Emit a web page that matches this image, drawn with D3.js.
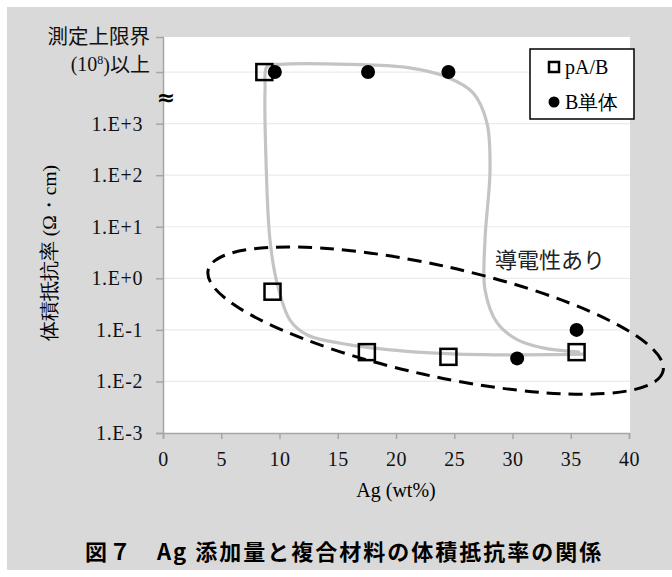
<!DOCTYPE html>
<html>
<head>
<meta charset="utf-8">
<script src="https://cdn.jsdelivr.net/npm/d3@7"></script>
<style>
  body { margin: 0; background: #fff; }
  svg { display: block; }
  .serif { font-family: "Liberation Serif", "DejaVu Serif", serif; }
  .jp { font-family: "Noto Sans CJK JP", sans-serif; }
</style>
</head>
<body>
<div id="chart"></div>
<script>
// values (resistivity in ohm-cm, "limit" = above 10^8)
const limit = 1e4; // plotted at the "(10^8)以上" row
const pabX = [8.7, 9.4, 17.5, 24.5, 35.5];
const pabY = [limit, 0.55, 0.037, 0.030, 0.037];
const bX = [9.6, 17.6, 24.5, 30.4, 35.5];
const bY = [limit, limit, limit, 0.028, 0.1];
const xTicks = [0, 5, 10, 15, 20, 25, 30, 35, 40];
const yTicks = [-3, -2, -1, 0, 1, 2, 3, 4];

// hand-drawn gray guide curve (wt%, log10 value)
const guideX = [36.1, 27.5, 21.8, 16.05, 12.4, 10.9, 9.79, 9.18, 8.84, 8.76, 8.93, 10.0, 16.0, 20.9, 24.4, 26.6, 27.8, 28.07, 27.64, 27.64, 28.67, 30.4, 32.6, 35.8];
const guideY = [-1.47, -1.48, -1.43, -1.29, -1.10, -0.81, -0.09, 0.75, 2.30, 3.66, 4.11, 4.15, 4.15, 4.09, 3.90, 3.60, 3.02, 2.11, 0.75, -0.22, -0.86, -1.19, -1.35, -1.43];

const width = 672, height = 577;
const margin = { left: 163, right: 43, top: 37, bottom: 144 };

const svg = d3.select("#chart")
  .append("svg")
  .attr("width", width)
  .attr("height", height);

// gray panel
svg.append("rect")
  .attr("x", 7).attr("y", 7)
  .attr("width", width - 7).attr("height", 563)
  .attr("fill", "#d9d9d9");

const x = d3.scaleLinear().domain([0, 40]).range([margin.left, width - margin.right]);
const y = d3.scaleLinear().domain([-3, 4.68]).range([height - margin.bottom, margin.top]);

svg.append("rect")
  .attr("x", x(0)).attr("y", margin.top)
  .attr("width", 630 - x(0)).attr("height", y(-3) - margin.top)
  .attr("fill", "#fff");

// grid
svg.append("g")
  .selectAll("line")
  .data(yTicks.slice(1))
  .join("line")
  .attr("x1", x(0)).attr("x2", 630)
  .attr("y1", d => y(d)).attr("y2", d => y(d))
  .attr("stroke", "#ebebeb")
  .attr("stroke-width", 1.2);

const yAxis = svg.append("g")
  .attr("transform", `translate(${x(0)},0)`)
  .call(d3.axisLeft(y).tickValues(yTicks).tickSize(7).tickPadding(13)
    .tickFormat(d => d === 4 ? "" : "1.E" + (d < 0 ? "-" : "+") + Math.abs(d)));

const xAxis = svg.append("g")
  .attr("transform", `translate(0,${y(-3)})`)
  .call(d3.axisBottom(x).tickValues(xTicks).tickSize(6).tickPadding(13));

[xAxis, yAxis].forEach(g => {
  g.attr("font-family", null).attr("font-size", null);
  g.select(".domain").attr("stroke", "#a6a6a6").attr("stroke-width", 1.5);
  g.selectAll(".tick line").attr("stroke", "#a6a6a6").attr("stroke-width", 1.5);
  g.selectAll("text")
    .attr("class", "serif")
    .style("font-size", "20px")
    .attr("letter-spacing", 0.6)
    .attr("fill", "#111");
});

// top row label (upper measurement limit)
const topLab = yAxis.select(".tick:last-of-type text");
topLab.attr("letter-spacing", 0);
topLab.append("tspan").attr("x", -13).attr("dy", "-1.4em")
  .attr("class", "jp").style("font-size", "20.5px")
  .text("測定上限界");
const t2 = topLab.append("tspan").attr("x", -13).attr("dy", "1.38em");
t2.append("tspan").text("(10");
t2.append("tspan").style("font-size", "12px").attr("dy", "-0.6em").text("8");
t2.append("tspan").attr("dy", "0.4em").text(")");
t2.append("tspan").attr("class", "jp").style("font-size", "20px").text("以上");

// axis break mark
svg.append("text")
  .attr("x", x(0) + 3).attr("y", (y(4) + y(3)) / 2)
  .attr("text-anchor", "middle")
  .attr("dominant-baseline", "central")
  .style("font-family", "'DejaVu Sans', sans-serif")
  .attr("font-weight", "bold")
  .attr("font-size", 22)
  .text("≈");

// guide curve
const guide = d3.line()
  .x(d => x(d[0]))
  .y(d => y(d[1]))
  .curve(d3.curveCatmullRom.alpha(0.5));

svg.append("path")
  .attr("d", guide(d3.zip(guideX, guideY)))
  .attr("fill", "none")
  .attr("stroke", "#c4c4c4")
  .attr("stroke-width", 3.2);

// dashed ellipse around conductive region
const ec = [x(23.4), y(-0.82)];
svg.append("ellipse")
  .attr("cx", ec[0]).attr("cy", ec[1])
  .attr("rx", 233).attr("ry", 55)
  .attr("transform", `rotate(12.5 ${ec[0]} ${ec[1]})`)
  .attr("fill", "none")
  .attr("stroke", "#000")
  .attr("stroke-width", 3)
  .attr("stroke-dasharray", "14 8");

svg.append("text")
  .attr("x", 495).attr("y", 258)
  .attr("dominant-baseline", "central")
  .attr("class", "jp")
  .style("font-size", "22px")
  .attr("fill", "#222")
  .text("導電性あり");

// markers
const pab = d3.zip(pabX, pabY);
const bOnly = d3.zip(bX, bY);

svg.append("g")
  .selectAll("circle")
  .data(bOnly)
  .join("circle")
  .attr("cx", d => x(d[0]))
  .attr("cy", d => y(Math.log10(d[1])))
  .attr("r", 7)
  .attr("fill", "#000");

svg.append("g")
  .selectAll("rect")
  .data(pab)
  .join("rect")
  .attr("x", d => x(d[0]) - 8)
  .attr("y", d => y(Math.log10(d[1])) - 8)
  .attr("width", 16).attr("height", 16)
  .attr("fill", "none")
  .attr("stroke", "#000")
  .attr("stroke-width", 2.5);

// legend
const legend = svg.append("g").attr("transform", "translate(530,49)");
legend.append("rect")
  .attr("width", 104).attr("height", 70)
  .attr("fill", "#fff").attr("stroke", "#000").attr("stroke-width", 1.5);
legend.append("rect")
  .attr("x", 19).attr("y", 13).attr("width", 10).attr("height", 10)
  .attr("fill", "none").attr("stroke", "#000").attr("stroke-width", 2.5);
legend.append("circle")
  .attr("cx", 24).attr("cy", 53).attr("r", 5.5).attr("fill", "#000");
legend.selectAll("text.lab")
  .data(["pA/B", "B単体"])
  .join("text")
  .attr("class", "lab serif")
  .attr("x", 35).attr("y", (d, i) => 18 + i * 35)
  .attr("dominant-baseline", "central")
  .style("font-size", "20px")
  .text(d => d);

// axis titles
svg.append("text")
  .attr("x", x(20)).attr("y", 490)
  .attr("text-anchor", "middle")
  .attr("dominant-baseline", "central")
  .attr("class", "serif")
  .style("font-size", "20px")
  .text("Ag (wt%)");

svg.append("text")
  .attr("transform", "translate(49,253) rotate(-90)")
  .attr("text-anchor", "middle")
  .attr("dominant-baseline", "central")
  .attr("class", "serif")
  .style("font-size", "19.5px")
  .text("体積抵抗率 (Ω・cm)");

// caption
svg.append("text")
  .attr("x", 85).attr("y", 550)
  .attr("dominant-baseline", "central")
  .attr("class", "jp")
  .attr("font-weight", "bold")
  .style("font-size", "22px")
  .attr("letter-spacing", 2)
  .text("図７　Ag 添加量と複合材料の体積抵抗率の関係");
</script>
</body>
</html>
